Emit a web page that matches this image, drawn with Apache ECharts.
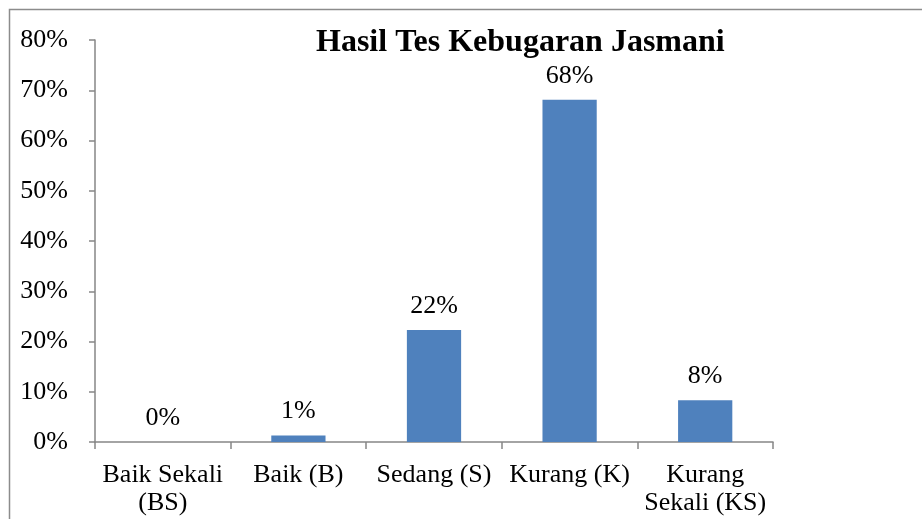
<!DOCTYPE html>
<html>
<head>
<meta charset="utf-8">
<script src="https://cdn.jsdelivr.net/npm/echarts@6/dist/echarts.min.js"></script>
<style>html,body{margin:0;padding:0;background:#fff}#c{width:922px;height:519px}</style>
</head>
<body>
<div id="c"></div>
<script>
const categories = ['Baik Sekali\n(BS)', 'Baik (B)', 'Sedang (S)', 'Kurang (K)', 'Kurang\nSekali (KS)'];
const values = [0, 1.3, 22.3, 68.1, 8.3];
const valueLabels = ['0%', '1%', '22%', '68%', '8%'];
const yTicks = [0, 10, 20, 30, 40, 50, 60, 70, 80];

const font = 'Liberation Serif, Times New Roman, serif';
const chart = echarts.init(document.getElementById('c'));
chart.setOption({
  animation: false,
  title: {
    text: 'Hasil Tes Kebugaran Jasmani',
    left: 311, top: 22,
    textStyle: {fontFamily: font, fontSize: 32, fontWeight: 'bold', color: '#000'}
  },
  graphic: [{
    type: 'rect', shape: {x: 9.5, y: 9.5, width: 1000, height: 600},
    style: {fill: 'none', stroke: '#8c8c8c', lineWidth: 1.5}, silent: true
  }],
  grid: {left: 95, top: 40, right: 149, bottom: 77},
  xAxis: {
    type: 'category', data: categories,
    axisLine: {lineStyle: {color: '#868686', width: 1.5}},
    axisTick: {show: true, length: 7, lineStyle: {color: '#868686', width: 1.5}},
    axisLabel: {fontFamily: font, fontSize: 26, color: '#000', margin: 19, lineHeight: 28, interval: 0}
  },
  yAxis: {
    type: 'value', min: 0, max: 80, interval: 10,
    axisLine: {show: true, lineStyle: {color: '#868686', width: 1.5}},
    axisTick: {show: true, length: 6, lineStyle: {color: '#868686', width: 1.5}},
    splitLine: {show: false},
    axisLabel: {fontFamily: font, fontSize: 26, color: '#000', margin: 27,
      formatter: v => yTicks.includes(v) ? v + '%' : ''}
  },
  series: [{
    type: 'bar', data: values, barWidth: '40%',
    itemStyle: {color: '#4F81BD'},
    label: {show: true, position: 'top', distance: 11, fontFamily: font, fontSize: 26, color: '#000',
      formatter: p => valueLabels[p.dataIndex]}
  }]
});
</script>
</body>
</html>
